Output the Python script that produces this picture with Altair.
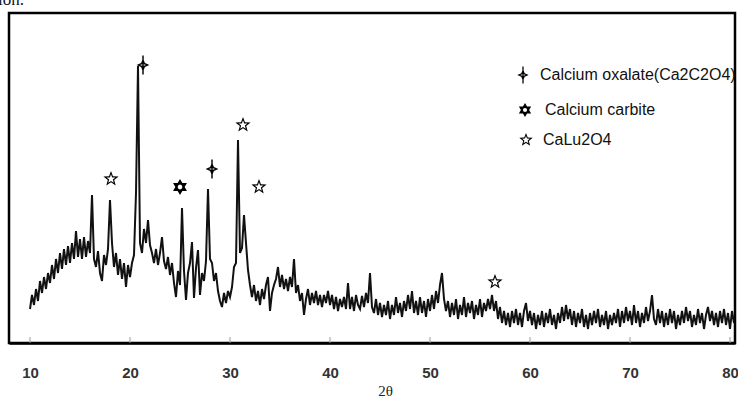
import altair as alt
import pandas as pd

# ---- XRD pattern, intensity (a.u.) sampled every 0.2 degrees from 10.0 ----
start_2theta = 10.0
step_2theta = 0.2

i_10_20 = [34, 48, 38, 54, 42, 62, 50, 66, 54, 70,
           60, 78, 64, 84, 70, 90, 74, 94, 78, 97,
           80, 100, 84, 112, 86, 104, 84, 106, 86, 102,
           90, 148, 84, 76, 92, 70, 62, 88, 78, 94,
           143, 100, 76, 90, 68, 84, 64, 80, 56, 78]
i_20_30 = [66, 80, 88, 150, 277, 100, 90, 114, 100, 123,
           98, 90, 80, 94, 78, 90, 106, 82, 74, 86,
           68, 80, 60, 46, 72, 58, 135, 72, 43, 70,
           80, 101, 45, 75, 93, 48, 70, 62, 82, 154,
           84, 80, 62, 70, 52, 42, 36, 50, 40, 52]
i_30_40 = [46, 56, 76, 80, 203, 90, 95, 128, 100, 73,
           58, 46, 58, 42, 52, 38, 54, 44, 58, 66,
           32, 50, 58, 64, 76, 56, 68, 54, 64, 52,
           66, 56, 84, 50, 58, 42, 50, 28, 44, 54,
           38, 50, 40, 52, 38, 48, 36, 48, 40, 52]
i_40_50 = [38, 48, 34, 46, 32, 44, 36, 46, 34, 60,
           34, 46, 32, 48, 38, 34, 47, 36, 50, 40,
           70, 36, 30, 44, 28, 40, 26, 38, 28, 42,
           24, 38, 28, 46, 30, 40, 26, 42, 32, 48,
           34, 52, 30, 42, 28, 46, 30, 42, 26, 44]
i_50_60 = [32, 48, 34, 52, 40, 58, 70, 44, 32, 42,
           26, 40, 28, 44, 24, 38, 28, 46, 26, 40,
           30, 42, 24, 38, 28, 44, 26, 40, 32, 44,
           34, 48, 32, 42, 24, 36, 20, 32, 18, 30,
           16, 32, 20, 34, 18, 30, 16, 32, 40, 22]
i_60_70 = [32, 18, 30, 14, 28, 18, 32, 16, 30, 20,
           34, 18, 28, 14, 30, 20, 36, 22, 38, 24,
           34, 18, 32, 16, 30, 20, 34, 16, 28, 14,
           30, 18, 32, 20, 34, 16, 28, 18, 32, 14,
           28, 18, 30, 20, 34, 16, 32, 20, 36, 22]
i_70_80 = [32, 18, 38, 20, 32, 16, 30, 20, 36, 22,
           32, 48, 24, 18, 34, 20, 32, 16, 30, 18,
           34, 20, 32, 14, 28, 18, 32, 20, 36, 22,
           32, 16, 28, 18, 34, 20, 30, 14, 28, 36,
           22, 32, 18, 30, 16, 32, 20, 34, 18, 30,
           14, 32, 20]

intensity = i_10_20 + i_20_30 + i_30_40 + i_40_50 + i_50_60 + i_60_70 + i_70_80
two_theta = [round(start_2theta + step_2theta * k, 1) for k in range(len(intensity))]

# ---- phase markers ----
phases = ["Calcium oxalate(Ca2C2O4)", "Calcium carbite", "CaLu2O4"]
marker_phase = [phases[0], phases[0], phases[1], phases[2], phases[2], phases[2], phases[2]]
marker_2theta = [21.3, 28.2, 25.0, 18.1, 31.3, 32.9, 56.5]
marker_intensity = [278, 174, 156, 164, 218, 156, 61]

# ---- legend rows (placed in data space, upper right) ----
legend_phase = phases
legend_2theta = [59.3, 59.5, 59.6]
legend_label_2theta = [61.0, 61.5, 61.3]
legend_intensity = [268, 233, 203]

x_ticks = [10, 20, 30, 40, 50, 60, 70, 80]
tick_top = [6] * len(x_ticks)
tick_base = [0] * len(x_ticks)

# outline symbols drawn as filled rings (outer clockwise, inner counter-clockwise)
oxalate_path = ("M0,-0.85L0.24,-0.24L0.8,0L0.24,0.24L0,0.85L-0.24,0.24L-0.8,0L-0.24,-0.24Z"
                "M0,-0.4L-0.1,-0.1L-0.38,0L-0.1,0.1L0,0.4L0.1,0.1L0.38,0L0.1,-0.1Z"
                "M-0.09,-1.2L0.09,-1.2L0.09,1.2L-0.09,1.2Z")
carbite_path = ("M0,-1L0.29,-0.5L0.87,-0.5L0.58,0L0.87,0.5L0.29,0.5L0,1"
                "L-0.29,0.5L-0.87,0.5L-0.58,0L-0.87,-0.5L-0.29,-0.5Z"
                "M0.3,0L0.21,-0.21L0,-0.3L-0.21,-0.21L-0.3,0L-0.21,0.21"
                "L0,0.3L0.21,0.21Z")
star_path = ("M0,-1L0.247,-0.34L0.951,-0.309L0.399,0.13L0.588,0.809L0,0.42"
             "L-0.588,0.809L-0.399,0.13L-0.951,-0.309L-0.247,-0.34Z"
             "M0,-0.58L-0.143,-0.197L-0.552,-0.179L-0.231,0.075L-0.341,0.469L0,0.244"
             "L0.341,0.469L0.231,0.075L0.552,-0.179L0.143,-0.197Z")
shape_scale = alt.Scale(domain=phases, range=[oxalate_path, carbite_path, star_path])

pattern = pd.DataFrame({"two_theta": two_theta, "intensity": intensity})
markers = pd.DataFrame({"phase": marker_phase, "two_theta": marker_2theta,
                        "intensity": marker_intensity})
legend_df = pd.DataFrame({"phase": legend_phase, "two_theta": legend_2theta,
                          "label_x": legend_label_2theta, "intensity": legend_intensity})
ticks = pd.DataFrame({"two_theta": x_ticks, "top": tick_top, "base": tick_base})
doc_df = pd.DataFrame({"t": ["tion."], "two_theta": [9.4], "intensity": [338]})

x_scale = alt.Scale(domain=[7.9, 80.5], nice=False, zero=False)
y_scale = alt.Scale(domain=[0, 330], nice=False, zero=True)

x_axis = alt.Axis(values=x_ticks, title="2θ", grid=False, ticks=False,
                  domain=True, domainColor="black", domainWidth=2.5,
                  labelFont="Liberation Sans", labelFontSize=15, labelFontWeight="bold",
                  labelColor="#333", labelPadding=22,
                  titleFont="Liberation Serif", titleFontSize=15, titleFontWeight="normal",
                  titleColor="#222", titleX=376, titleY=47, titleAlign="center",
                  titleBaseline="middle")


def xenc(field):
    return alt.X(field, type="quantitative", scale=x_scale, axis=x_axis)


def yenc(field):
    return alt.Y(field, type="quantitative", scale=y_scale, axis=None)


line = alt.Chart(pattern).mark_line(color="#111", strokeWidth=2.0).encode(
    x=xenc("two_theta"), y=yenc("intensity"),
)

tick_marks = alt.Chart(ticks).mark_rule(color="#999", strokeWidth=1).encode(
    x=xenc("two_theta"), y=yenc("top"), y2="base:Q",
)

points = alt.Chart(markers).mark_point(filled=True, color="black", strokeWidth=0,
                                       size=256, opacity=1).encode(
    x=xenc("two_theta"), y=yenc("intensity"),
    shape=alt.Shape("phase:N", scale=shape_scale, legend=None),
)

legend_symbols = alt.Chart(legend_df).mark_point(filled=True, color="black", strokeWidth=0,
                                                 size=200, opacity=1).encode(
    x=xenc("two_theta"), y=yenc("intensity"),
    shape=alt.Shape("phase:N", scale=shape_scale, legend=None),
)

legend_labels = alt.Chart(legend_df).mark_text(
    align="left", baseline="middle", font="Liberation Sans", fontSize=16,
    color="#111").encode(
    x=xenc("label_x"), y=yenc("intensity"), text="phase:N",
)

doc_text = alt.Chart(doc_df).mark_text(
    align="right", baseline="alphabetic", font="Liberation Serif", fontSize=17,
    color="#111").encode(
    x=xenc("two_theta"), y=yenc("intensity"), text="t:N",
)

chart = alt.layer(line, tick_marks, points, legend_symbols, legend_labels, doc_text).properties(
    width=726, height=330,
    autosize=alt.AutoSizeParams(type="none"),
    padding={"left": 9, "top": 13, "right": 3, "bottom": 55},
    background="white",
).configure_view(stroke="black", strokeWidth=2.5)

chart.save("out.html", embed_options={"renderer": "svg", "actions": False})
